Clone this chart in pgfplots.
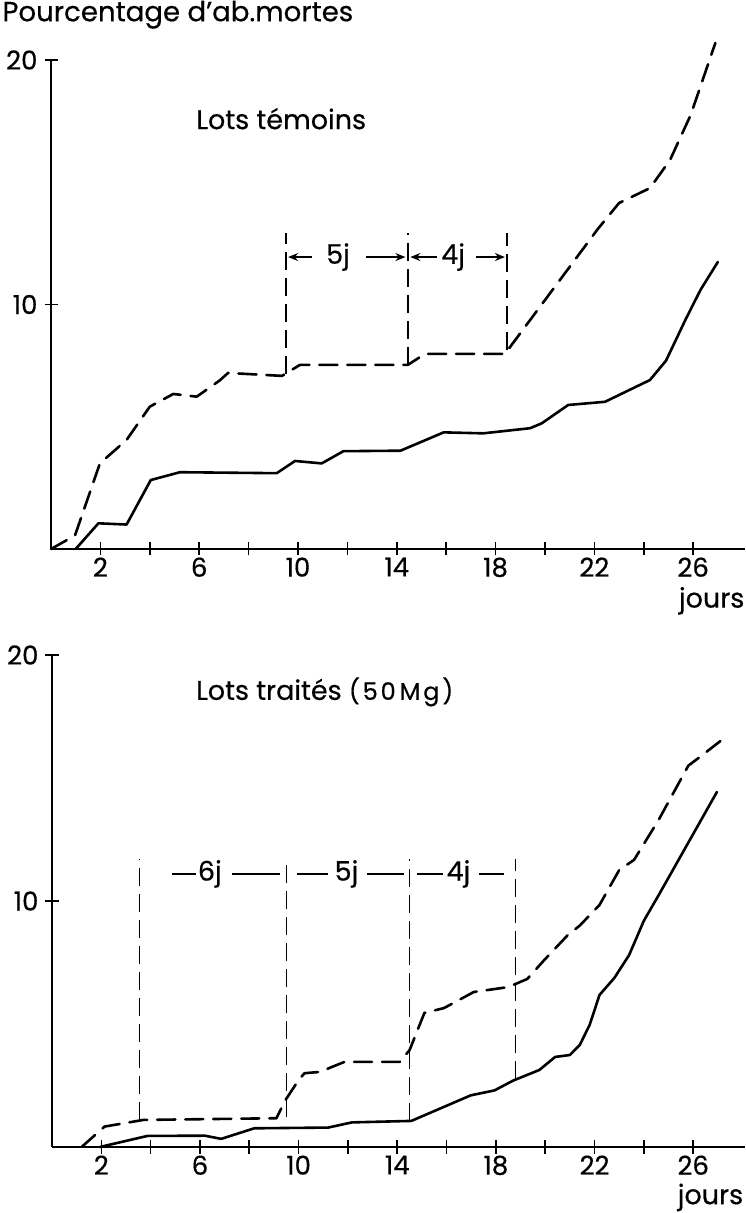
\documentclass[border=0pt]{standalone}
\usepackage{fontspec}
\setmainfont{Poppins}[UprightFeatures={FakeBold=0.5}]
\usepackage{pgfplots}
\pgfplotsset{compat=1.18}
\usetikzlibrary{arrows.meta}

\pgfplotsset{
  plaque/.style={
    scale only axis,
    axis x line=bottom,
    axis y line=left,
    axis line style={-, line width=1.4pt, black},
    xmin=0, xmax=28.1, ymin=0, ymax=20,
    xtick={2,4,...,26},
    xticklabels={2,,6,,10,,14,,18,,22,,26},
    ytick={10,20},
    tick align=center,
    major tick length=6.5pt,
    tick style={line width=0.8pt, black},
    tick label style={font=\fontsize{13}{15}\selectfont},
    xticklabel style={yshift=2.5pt},
    /pgf/number format/assume math mode=true,
    clip=false,
  },
  courbe/.style={black, line width=1.3pt, line join=round, line cap=round},
  tirets/.style={courbe, dash pattern=on 9pt off 5pt},
}
\tikzset{
  repere/.style={black, line width=0.7pt, dash pattern=on 9pt off 4pt},
  fleche/.style={black, line width=0.8pt, -{Stealth[length=5pt,width=4pt]}},
  trait/.style={black, line width=0.8pt},
  texte/.style={font=\fontsize{13.5}{16}\selectfont, inner sep=0pt},
}

\begin{document}
\begin{tikzpicture}

% panneau du haut : lots temoins
\begin{axis}[plaque, at={(25.5pt,332pt)}, anchor=south west,
  width=347pt, height=244.5pt]
\addplot[courbe] coordinates {
  (1.0,0) (1.92,1.05) (3.06,1.0) (4.04,2.82) (5.22,3.14) (9.14,3.1)
  (9.88,3.6) (10.96,3.5) (11.84,4.0) (14.15,4.02) (15.9,4.77) (17.5,4.73)
  (19.4,4.94) (19.87,5.14) (20.94,5.89) (22.43,6.02) (24.25,6.91)
  (24.9,7.7) (25.7,9.4) (26.3,10.6) (27.0,11.74)};
\addplot[tirets] coordinates {
  (0,0) (0.97,0.55) (1.98,3.5) (3.06,4.46) (4.0,5.82) (4.95,6.34)
  (5.9,6.23) (6.84,6.9) (7.17,7.2) (9.35,7.08) (10.08,7.53) (14.45,7.53)
  (15.14,7.98) (18.38,7.98) (18.8,8.55) (22.15,13.1) (23.0,14.15)
  (24.25,14.76) (25.06,15.9) (25.9,17.75) (26.9,20.7)};
\draw[repere] (axis cs:9.51,7.15) -- (axis cs:9.51,12.92);
\draw[repere] (axis cs:14.45,7.53) -- (axis cs:14.45,12.92);
\draw[repere] (axis cs:18.46,8.15) -- (axis cs:18.46,12.92);
\draw[fleche] (axis cs:10.55,11.94) -- (axis cs:9.6,11.94);
\node[texte] at (axis cs:11.62,11.94) {5j};
\draw[fleche] (axis cs:12.75,11.94) -- (axis cs:14.35,11.94);
\draw[fleche] (axis cs:15.63,11.94) -- (axis cs:14.55,11.94);
\node[texte] at (axis cs:16.28,11.94) {4j};
\draw[fleche] (axis cs:17.2,11.94) -- (axis cs:18.38,11.94);
\node[texte, anchor=west] at (axis cs:5.87,17.6) {Lots témoins};
\node[texte] at (axis cs:26.75,-2.12) {jours};
\node[texte, anchor=west, font=\fontsize{13.8}{16}\selectfont]
  at (axis cs:-1.98,21.85) {Pourcentage d’ab.mortes};
\end{axis}

% panneau du bas : lots traites
\begin{axis}[plaque, at={(26pt,33pt)}, anchor=south west,
  width=346.5pt, height=246pt]
\addplot[courbe] coordinates {
  (1.94,0) (3.87,0.45) (6.2,0.46) (6.86,0.33) (8.2,0.76) (11.2,0.79)
  (12.16,1.0) (14.57,1.06) (16.98,2.1) (17.94,2.3) (18.7,2.7) (19.76,3.13)
  (20.4,3.66) (21,3.74) (21.4,4.15) (21.8,4.96) (22.2,6.18) (22.8,6.87)
  (23.4,7.8) (24,9.2) (24.6,10.24) (26.96,14.43)};
\addplot[tirets] coordinates {
  (1.2,0) (2.13,0.83) (3.7,1.1) (9.1,1.17) (9.46,1.9) (10.0,2.72)
  (10.24,3.0) (10.85,3.05) (11.86,3.46) (14.1,3.46) (14.5,3.94) (15.1,5.45)
  (15.9,5.65) (17.1,6.3) (18.5,6.5) (19.27,6.83) (19.96,7.6) (20.9,8.6)
  (21.4,9.0) (22.2,9.84) (23,11.26) (23.6,11.67) (24.6,13.3) (25.8,15.5)
  (26.2,15.8) (27.1,16.5)};
\draw[repere] (axis cs:3.56,1.1) -- (axis cs:3.56,11.7);
\draw[repere] (axis cs:9.51,1.2) -- (axis cs:9.51,11.7);
\draw[repere] (axis cs:14.5,1.06) -- (axis cs:14.5,11.7);
\draw[repere] (axis cs:18.79,2.75) -- (axis cs:18.79,11.7);
\draw[trait] (axis cs:4.86,11.1) -- (axis cs:5.85,11.1);
\node[texte] at (axis cs:6.4,11.1) {6j};
\draw[trait] (axis cs:7.29,11.1) -- (axis cs:9.23,11.1);
\draw[trait] (axis cs:9.92,11.1) -- (axis cs:11.2,11.1);
\node[texte] at (axis cs:11.94,11.1) {5j};
\draw[trait] (axis cs:12.79,11.1) -- (axis cs:14.29,11.1);
\draw[trait] (axis cs:14.82,11.1) -- (axis cs:15.85,11.1);
\node[texte] at (axis cs:16.48,11.1) {4j};
\draw[trait] (axis cs:17.33,11.1) -- (axis cs:18.34,11.1);
\node[texte, anchor=west] at (axis cs:5.83,18.5)
  {Lots traités {\fontsize{12}{14}\selectfont\addfontfeatures{LetterSpace=12}(50\,Mg)}};
\node[texte] at (axis cs:26.7,-2.05) {jours};
\end{axis}

\pgfresetboundingbox
\path[use as bounding box] (0,0) rectangle (372.5pt,606.5pt);
\end{tikzpicture}
\end{document}
